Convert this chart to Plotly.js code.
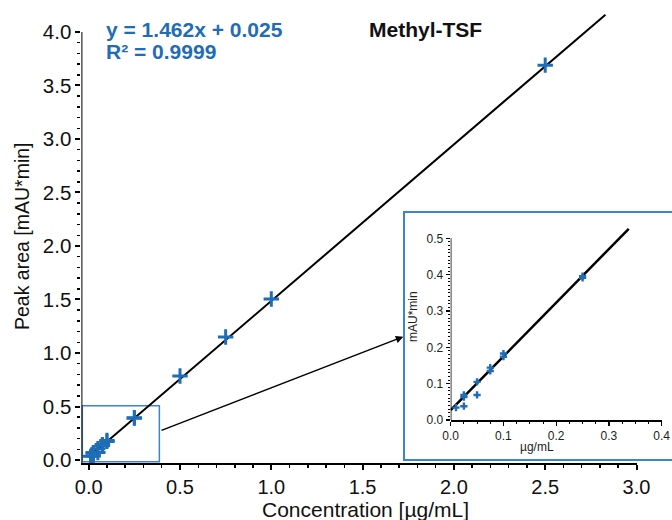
<!DOCTYPE html>
<html>
<head>
<meta charset="utf-8">
<script src="https://cdn.plot.ly/plotly-3.0.1.min.js"></script>
<style>html,body{margin:0;padding:0;background:#fff;}#chart{width:672px;height:520px;}</style>
</head>
<body>
<div id="chart"></div>
<script>
// ---- data ----
const concentration = [0.01, 0.025, 0.025, 0.025, 0.05, 0.05, 0.075, 0.075, 0.1, 0.1, 0.25, 0.25, 0.5, 0.75, 1.0, 2.5];
const peakArea      = [0.034, 0.038, 0.063, 0.069, 0.069, 0.105, 0.135, 0.144, 0.174, 0.183, 0.391, 0.396, 0.785, 1.15, 1.505, 3.69];
const fitX = [0, 2.83];
const fitY = [0.025, 4.162];
const insetFitX = [0, 0.3375];
const insetFitY = [0.0275, 0.526];
const xTicks = [0, 0.5, 1.0, 1.5, 2.0, 2.5, 3.0];
const yTicks = [0, 0.5, 1.0, 1.5, 2.0, 2.5, 3.0, 3.5, 4.0];
const insetXTicks = [0, 0.1, 0.2, 0.3, 0.4];
const insetYTicks = [0, 0.1, 0.2, 0.3, 0.4, 0.5];
const equationText = "y = 1.462x + 0.025";
const r2Text = "R² = 0.9999";
const titleText = "Methyl-TSF";
const xTitle = "Concentration [µg/mL]";
const yTitle = "Peak area [mAU*min]";
const insetXTitle = "µg/mL";
const insetYTitle = "mAU*min";

function steps(a, b, d) { const o = []; const n = Math.round((b - a) / d); for (let i = 0; i <= n; i++) o.push(+(a + i * d).toFixed(4)); return o; }
const fmt = v => v.toFixed(1);

const BLUE = '#1f6db5';
const BOX = '#3a86c8';
const FONT = 'Liberation Sans, Arial, Helvetica, sans-serif';

const traces = [
  { x: fitX, y: fitY, xaxis: 'x', yaxis: 'y', mode: 'lines', line: { color: 'black', width: 2 }, hoverinfo: 'skip' },
  { x: concentration, y: peakArea, xaxis: 'x', yaxis: 'y', mode: 'markers',
    marker: { symbol: 'cross-thin', size: 11, line: { color: BLUE, width: 3 }, color: BLUE }, cliponaxis: false },
  { x: insetFitX, y: insetFitY, xaxis: 'x2', yaxis: 'y2', mode: 'lines', line: { color: 'black', width: 2.5 }, hoverinfo: 'skip' },
  { x: concentration.filter(v => v <= 0.4), y: peakArea.filter((v, i) => concentration[i] <= 0.4), xaxis: 'x2', yaxis: 'y2', mode: 'markers',
    marker: { symbol: 'cross', size: 6, color: BLUE }, cliponaxis: false }
];

const layout = {
  width: 672, height: 520,
  margin: { l: 0, r: 0, t: 0, b: 0 },
  paper_bgcolor: 'white', plot_bgcolor: 'rgba(0,0,0,0)',
  showlegend: false,
  font: { family: FONT, color: '#111' },
  xaxis: {
    domain: [81.4 / 672, 636.5 / 672], range: [-0.04, 3.0], anchor: 'y',
    showline: true, linecolor: 'black', linewidth: 2, showgrid: false, zeroline: false,
    ticks: 'outside', ticklen: 5, tickwidth: 2, tickcolor: 'black',
    tickmode: 'array', tickvals: xTicks, ticktext: xTicks.map(fmt), tickfont: { size: 20, color: '#111' },
    minor: { tickmode: 'array', tickvals: steps(0, 3.0, 0.1), ticks: 'outside', ticklen: 3, tickwidth: 1.5, tickcolor: 'black', showgrid: false },
    automargin: false, fixedrange: true
  },
  yaxis: {
    domain: [1 - 463 / 520, 1 - 9.5 / 520], range: [-0.028, 4.21], anchor: 'x',
    showline: false, showgrid: false, zeroline: false,
    ticks: 'outside', ticklen: 5, tickwidth: 2, tickcolor: 'black',
    tickmode: 'array', tickvals: yTicks, ticktext: yTicks.map(fmt), tickfont: { size: 20.5, color: '#111' },
    minor: { tickmode: 'array', tickvals: steps(0, 4.0, 0.1), ticks: 'outside', ticklen: 3, tickwidth: 1.5, tickcolor: 'black', showgrid: false },
    automargin: false, fixedrange: true
  },
  xaxis2: {
    domain: [450.7 / 672, 661.7 / 672], range: [0, 0.4], anchor: 'y2',
    showline: true, linecolor: 'black', linewidth: 1.5, showgrid: false, zeroline: false,
    ticks: 'outside', ticklen: 4, tickwidth: 1.2, tickcolor: 'black',
    tickmode: 'array', tickvals: insetXTicks, ticktext: insetXTicks.map(fmt), tickfont: { size: 12, color: '#222' },
    minor: { tickmode: 'array', tickvals: steps(0, 0.4, 0.025), ticks: 'outside', ticklen: 2, tickwidth: 1, tickcolor: 'black', showgrid: false },
    automargin: false, fixedrange: true
  },
  yaxis2: {
    domain: [1 - 420 / 520, 1 - 227.4 / 520], range: [0, 0.53], anchor: 'x2',
    showline: false, showgrid: false, zeroline: false,
    ticks: 'outside', ticklen: 4, tickwidth: 1.2, tickcolor: 'black',
    tickmode: 'array', tickvals: insetYTicks, ticktext: insetYTicks.map(fmt), tickfont: { size: 12, color: '#222' },
    minor: { tickmode: 'array', tickvals: steps(0, 0.5, 0.01), ticks: 'outside', ticklen: 2, tickwidth: 1, tickcolor: 'black', showgrid: false },
    automargin: false, fixedrange: true
  },
  shapes: [
    // inset frame
    { type: 'rect', xref: 'paper', yref: 'paper', x0: 404 / 672, x1: 1.02, y0: 1 - 460 / 520, y1: 1 - 212 / 520,
      line: { color: BOX, width: 2 }, fillcolor: 'white', layer: 'below' },
    // main y axis line (ends at 4.0)
    { type: 'line', xref: 'x', yref: 'y', x0: -0.04, x1: -0.04, y0: -0.028, y1: 4.0, line: { color: 'black', width: 2 } },
    // inset y axis line (ends at 0.5)
    { type: 'line', xref: 'x2', yref: 'y2', x0: 0, x1: 0, y0: 0, y1: 0.5, line: { color: 'black', width: 1.5 } },
    // zoom region box
    { type: 'rect', xref: 'x', yref: 'y', x0: -0.035, x1: 0.387, y0: -0.016, y1: 0.507,
      line: { color: BOX, width: 1.5 }, fillcolor: 'rgba(0,0,0,0)', layer: 'below' }
  ],
  annotations: [
    { xref: 'paper', yref: 'paper', x: 104 / 672, y: 1 - 29 / 520, xanchor: 'left', yanchor: 'middle', showarrow: false,
      text: '<b>' + equationText + '</b>', font: { family: FONT, size: 21, color: BLUE } },
    { xref: 'paper', yref: 'paper', x: 104 / 672, y: 1 - 52 / 520, xanchor: 'left', yanchor: 'middle', showarrow: false,
      text: '<b>' + r2Text + '</b>', font: { family: FONT, size: 21, color: BLUE } },
    { xref: 'paper', yref: 'paper', x: 367 / 672, y: 1 - 29 / 520, xanchor: 'left', yanchor: 'middle', showarrow: false,
      text: '<b>' + titleText + '</b>', font: { family: FONT, size: 21, color: '#111' } },
    { xref: 'paper', yref: 'paper', x: 365.5 / 672, y: 1 - 509 / 520, xanchor: 'center', yanchor: 'middle', showarrow: false,
      text: xTitle, font: { family: FONT, size: 21, color: '#111' } },
    { xref: 'paper', yref: 'paper', x: 22 / 672, y: 1 - 236 / 520, xanchor: 'center', yanchor: 'middle', showarrow: false,
      textangle: -90, text: yTitle, font: { family: FONT, size: 19.5, color: '#111' } },
    { xref: 'paper', yref: 'paper', x: 537 / 672, y: 1 - 446.5 / 520, xanchor: 'center', yanchor: 'middle', showarrow: false,
      text: insetXTitle, font: { family: FONT, size: 12, color: '#222' } },
    { xref: 'paper', yref: 'paper', x: 413 / 672, y: 1 - 317 / 520, xanchor: 'center', yanchor: 'middle', showarrow: false,
      textangle: -90, text: insetYTitle, font: { family: FONT, size: 12, color: '#222' } },
    // arrow from zoom box to inset
    { xref: 'paper', yref: 'paper', x: 403.3 / 672, y: 1 - 336.7 / 520, axref: 'pixel', ayref: 'pixel',
      ax: -243.3, ay: 94.3, text: '', showarrow: true, arrowhead: 2, arrowsize: 1, arrowwidth: 1.5, arrowcolor: 'black', standoff: 0 }
  ]
};

Plotly.newPlot('chart', traces, layout, { staticPlot: true, displayModeBar: false });
</script>
</body>
</html>
